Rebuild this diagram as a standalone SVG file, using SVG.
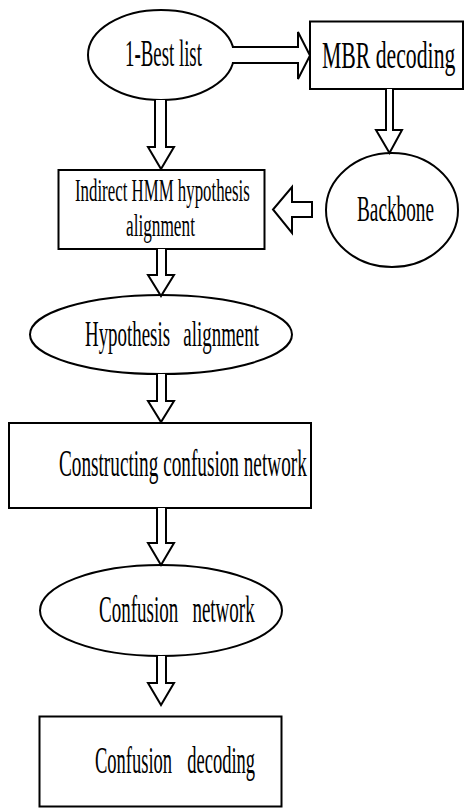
<svg xmlns="http://www.w3.org/2000/svg" width="464" height="808" viewBox="0 0 464 808">
<style>
.n{fill:#fff;stroke:#000;stroke-width:2}
.a{fill:#fff;stroke:#000;stroke-width:2;stroke-linejoin:miter}
.t{font-family:"Liberation Serif","Times New Roman",serif;fill:#000}
</style>
<rect width="464" height="808" fill="#fff"/>
<g id="n-best">
<ellipse class="n" cx="161" cy="55" rx="73" ry="45"/>
<text class="t" transform="translate(125,66) scale(0.496,1)" font-size="38">1-Best list</text>
</g>
<g id="n-mbr">
<rect class="n" x="310" y="21.5" width="153" height="67.5"/>
<text class="t" transform="translate(322,68) scale(0.572,1)" font-size="38">MBR decoding</text>
</g>
<g id="n-backbone">
<ellipse class="n" cx="392" cy="210" rx="66" ry="57"/>
<text class="t" transform="translate(357,221) scale(0.535,1)" font-size="36">Backbone</text>
</g>
<g id="n-indirect">
<rect class="n" x="58.5" y="170" width="206" height="79"/>
<text class="t" transform="translate(75,201) scale(0.543,1)" font-size="31">Indirect HMM hypothesis</text>
<text class="t" transform="translate(126,236) scale(0.556,1)" font-size="31">alignment</text>
</g>
<g id="n-hyp">
<ellipse class="n" cx="161" cy="334.5" rx="131" ry="39.5"/>
<text class="t" transform="translate(85,345.5) scale(0.54,1)" font-size="35" word-spacing="16">Hypothesis alignment</text>
</g>
<g id="n-construct">
<rect class="n" x="9" y="423" width="302" height="85"/>
<text class="t" transform="translate(59,475.5) scale(0.506,1)" font-size="38">Constructing confusion network</text>
</g>
<g id="n-cn">
<ellipse class="n" cx="161" cy="610.5" rx="121" ry="45.5"/>
<text class="t" transform="translate(99,621.5) scale(0.5,1)" font-size="38" word-spacing="19">Confusion network</text>
</g>
<g id="n-cd">
<rect class="n" x="39.5" y="716.5" width="242" height="90"/>
<text class="t" transform="translate(95,773) scale(0.5,1)" font-size="37" word-spacing="21">Confusion decoding</text>
</g>
<g id="connectors">
<path class="a" d="M155,100 V147 H148 L161,169 L174,147 H166 V100"/>
<path class="a" d="M232,47 H298 V32 L310,55.5 L298,79 V63 H232"/>
<path class="a" d="M386,89 V130 H376 L389.5,153 L402,130 H393 V89"/>
<path class="a" d="M312,202 V217 H292 V233 L273,209.5 L292,187 V202 Z"/>
<path class="a" d="M157,249 V275 H148 L161,296 L174,275 H166 V249"/>
<path class="a" d="M157,374 V401 H148 L161,422 L174,401 H166 V374"/>
<path class="a" d="M157,508 V543 H148 L161,565 L174,543 H166 V508"/>
<path class="a" d="M157,656 V683 H148 L161,705 L174,683 H166 V656"/>
</g>
</svg>
